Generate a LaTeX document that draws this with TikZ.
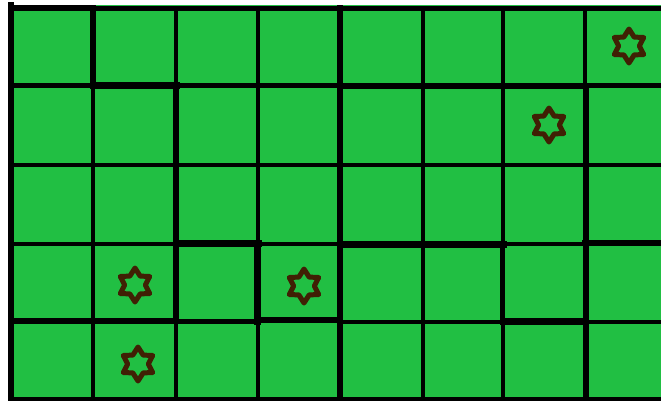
\documentclass[tikz,border=0pt]{standalone}
\definecolor{grn}{RGB}{33,191,67}
\definecolor{starbrown}{RGB}{64,32,4}
\tikzset{
  gl/.style={line width=4pt, line cap=rect},
  starline/.style={draw=starbrown, line width=5pt, line join=round},
  hstar/.pic={\draw[starline] (90:17) \foreach \a in {0,...,5}{ -- (120+\a*60:10.3) -- (150+\a*60:17)} -- cycle;}
}
\begin{document}
\begin{tikzpicture}[x=1pt,y=-1pt]
\useasboundingbox (0,0) rectangle (661,400);
\fill[white] (0,0) rectangle (661,400);
\fill[grn] (8,5) rectangle (661,400);
% horizontal lines
\draw[gl, line width=6pt] (11,8) -- (93,8);
\draw[gl, line width=5pt] (93,8.8) -- (661,8.8);
\draw[gl, line width=5pt] (11,85.5) -- (661,85.5);
\draw[gl, line width=7pt] (93,85.5) -- (176,85.5);
\draw[gl, line width=6pt] (340,86) -- (585,86);
\draw[gl] (11,165) -- (661,165);
\draw[gl] (11,244) -- (661,244);
\draw[gl, line width=7pt] (176,243.5) -- (258,243.5);
\draw[gl, line width=7pt] (340,244.5) -- (503,244.5);
\draw[gl, line width=6pt] (585,243) -- (661,243);
\draw[gl, line width=6pt] (11,321) -- (176,321);
\draw[gl, line width=5pt] (176,321.5) -- (258,321.5);
\draw[gl, line width=6pt] (258,320) -- (340,320);
\draw[gl] (340,322) -- (503,322);
\draw[gl, line width=7pt] (503,321.5) -- (585,321.5);
\draw[gl] (585,322) -- (661,322);
\draw[gl] (11,398.5) -- (661,398.5);
% vertical lines
\draw[gl, line width=6pt] (11,5) -- (11,400);
\draw[gl, line width=6pt] (92.5,8) -- (92.5,85);
\draw[gl] (93,85) -- (93,400);
\draw[gl] (176,8) -- (176,85);
\draw[gl, line width=6pt] (176,85) -- (176,321);
\draw[gl] (176,321) -- (176,400);
\draw[gl] (258,8) -- (258,400);
\draw[gl, line width=7pt] (257.5,244) -- (257.5,321);
\draw[gl, line width=6pt] (340,8) -- (340,400);
\draw[gl] (423,8) -- (423,400);
\draw[gl] (503,8) -- (503,400);
\draw[gl, line width=5pt] (502.5,244) -- (502.5,321);
\draw[gl] (585,8) -- (585,86);
\draw[gl, line width=6pt] (586,86) -- (586,400);
% stars
\pic at (629,46) {hstar};
\pic at (549,125) {hstar};
\pic at (135,285) {hstar};
\pic at (304,286) {hstar};
\pic at (138,364) {hstar};
\end{tikzpicture}
\end{document}
